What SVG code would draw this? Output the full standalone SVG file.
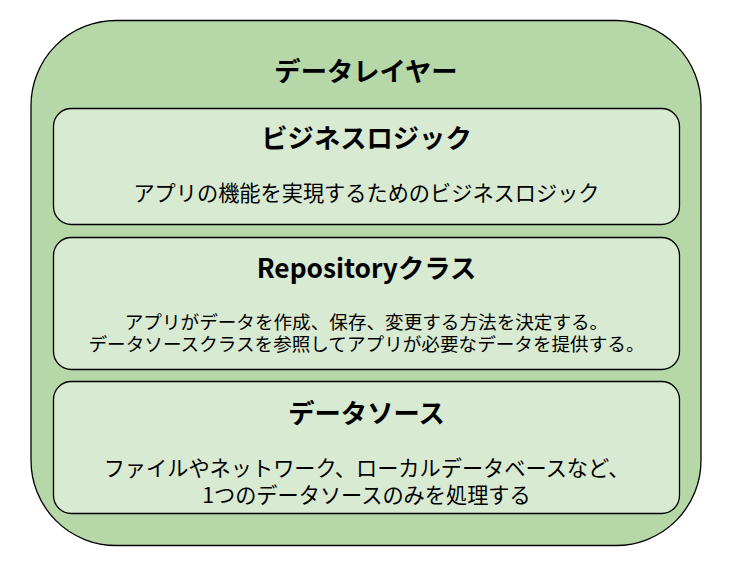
<svg xmlns="http://www.w3.org/2000/svg" width="732" height="565" viewBox="0 0 732 565">
<style>
.outer{fill:#b6d7a8;stroke:#000;stroke-width:1.3}
.box{fill:#d9ead3;stroke:#000;stroke-width:1.3}
text{font-family:"Noto Sans CJK JP","Noto Sans",sans-serif;fill:#000;text-anchor:middle}
.h{font-weight:bold;font-size:26.3px}
.b{font-size:21.2px}
.s{font-size:18.6px}
</style>
<rect width="732" height="565" fill="#ffffff"/>
<g id="data-layer">
<rect class="outer" x="31" y="20.5" width="670" height="525" rx="85" ry="85"/>
<text class="h" x="366" y="81">データレイヤー</text>
</g>
<g id="business-logic">
<rect class="box" x="53.5" y="108.5" width="626" height="116" rx="18" ry="18"/>
<text class="h" x="366.5" y="148">ビジネスロジック</text>
<text class="b" x="366.5" y="201">アプリの機能を実現するためのビジネスロジック</text>
</g>
<g id="repository">
<rect class="box" x="53.5" y="237.5" width="626" height="132" rx="18" ry="18"/>
<text class="h" x="366.5" y="278">Repositoryクラス</text>
<text class="s" x="366.5" y="328.5">アプリがデータを作成、保存、変更する方法を決定する。</text>
<text class="s" x="366.5" y="351">データソースクラスを参照してアプリが必要なデータを提供する。</text>
</g>
<g id="data-source">
<rect class="box" x="53.5" y="381.5" width="626" height="132" rx="18" ry="18"/>
<text class="h" x="366.5" y="422.5">データソース</text>
<text class="b" x="366.5" y="476">ファイルやネットワーク、ローカルデータベースなど、</text>
<text class="b" x="366.5" y="503">1つのデータソースのみを処理する</text>
</g>
<g id="connectors"></g>
</svg>
